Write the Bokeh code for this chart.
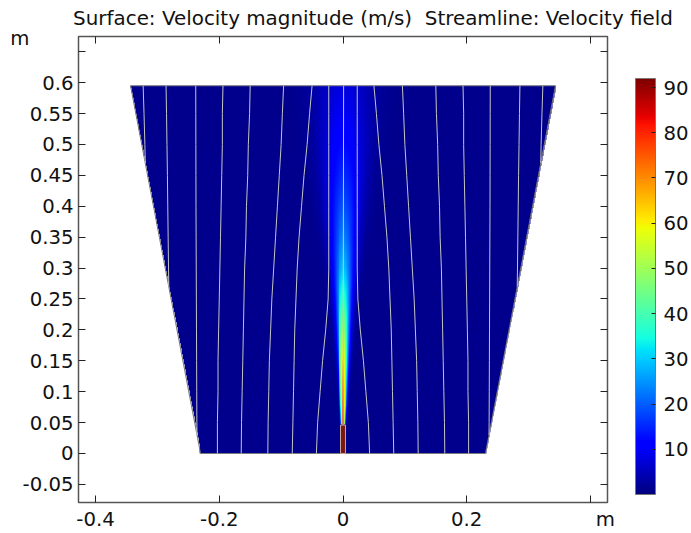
import numpy as np
from bokeh.plotting import figure
from bokeh.models import (Range1d, LinearAxis, FixedTicker, ColorBar,
                          LinearColorMapper)
from bokeh.embed import file_html
from bokeh.resources import INLINE

NBSP = "\u00a0"
# ---------------- data ----------------
TITLE = "Surface: Velocity magnitude (m/s)" + NBSP + " Streamline: Velocity field"
title_pos = [0.0485]          # horizontal centre of the title, in x units
x_ticks = [-0.4, -0.2, 0.0, 0.2, 0.4]
x_tick_labels = ["-0.4", "-0.2", "0", "0.2", ""]
x_unit_pos = [0.4242]
x_unit_label = ["m"]
y_ticks = [-0.05, 0.0, 0.05, 0.1, 0.15, 0.2, 0.25, 0.3, 0.35, 0.4, 0.45, 0.5, 0.55, 0.6, 0.65]
y_tick_labels = ["-0.05", "0", "0.05", "0.1", "0.15", "0.2", "0.25", "0.3", "0.35",
                 "0.4", "0.45", "0.5", "0.55", "0.6", ""]
y_unit_pos = [0.671]
y_unit_label = ["m"]
cb_ticks = [10, 20, 30, 40, 50, 60, 70, 80, 90]
v_low, v_high = 0.0, 92.0

# trapezoidal domain (m)
domain_x = [-0.2303, 0.2303, 0.3434, -0.3434]
domain_y = [0.0, 0.0, 0.595, 0.595]
# nozzle
nozzle_x = [-0.004, 0.004]
nozzle_y = [0.0, 0.046]

v_background = 1.0
jet_y = [0.046, 0.08, 0.12, 0.16, 0.20, 0.25, 0.30, 0.35, 0.40, 0.45, 0.50, 0.55, 0.595]
jet_uc = [86, 78, 69, 59, 49, 38, 29, 23, 18.5, 15, 12, 9.5, 7.5]
jet_b = [0.003, 0.0045, 0.006, 0.008, 0.010, 0.013, 0.017, 0.021, 0.026, 0.031, 0.036, 0.041, 0.046]

# streamlines (left half, mirrored for the right half)
sl_y = [0.0, 0.05, 0.10, 0.15, 0.20, 0.25, 0.30, 0.35, 0.40, 0.45, 0.50, 0.55, 0.595]
sl_left_from_bottom = [
    [-0.043, -0.041, -0.037, -0.033, -0.028, -0.024, -0.023, -0.023, -0.023, -0.023, -0.023, -0.023, -0.023],
    [-0.082, -0.081, -0.080, -0.079, -0.078, -0.076, -0.074, -0.071, -0.067, -0.063, -0.058, -0.054, -0.050],
    [-0.1215, -0.121, -0.120, -0.119, -0.117, -0.115, -0.112, -0.109, -0.106, -0.103, -0.100, -0.098, -0.096],
    [-0.1645, -0.164, -0.163, -0.162, -0.161, -0.160, -0.159, -0.157, -0.156, -0.154, -0.153, -0.151, -0.150],
    [-0.203, -0.203, -0.202, -0.202, -0.201, -0.200, -0.199, -0.198, -0.197, -0.196, -0.195, -0.195, -0.194],
]
# streamlines that begin on the slanted wall: start point, then values on sl_y (None below start)
sl_wall_start_x = [-0.2360, -0.2816, -0.3196]
sl_wall_start_y = [0.03, 0.27, 0.47]
sl_left_from_wall = [
    [None, -0.2362, -0.2364, -0.2366, -0.2368, -0.2370, -0.2372, -0.2374, -0.2376, -0.2377, -0.2378, -0.2379, -0.238],
    [None, None, None, None, None, None, -0.2820, -0.2826, -0.2832, -0.2838, -0.2845, -0.2852, -0.286],
    [None, None, None, None, None, None, None, None, None, None, -0.3202, -0.3216, -0.323],
]
center_line_x = [0.0, 0.0005, 0.001]
center_line_y = [0.0, 0.30, 0.595]

# ---------------- colour map (rainbow / jet) ----------------
def jet_rgb(f):
    r = np.interp(f, [0, 0.35, 0.66, 0.89, 1], [0, 0, 1, 1, 0.5])
    g = np.interp(f, [0, 0.125, 0.375, 0.64, 0.91, 1], [0, 0, 1, 1, 0, 0])
    b = np.interp(f, [0, 0.11, 0.34, 0.65, 1], [0.5, 1, 1, 0, 0])
    return r, g, b

fs = np.linspace(0, 1, 256)
pr, pg, pb = jet_rgb(fs)
palette = ["#%02x%02x%02x" % (int(r * 255), int(g * 255), int(b * 255)) for r, g, b in zip(pr, pg, pb)]

# ---------------- figure ----------------
FONT = "DejaVu Sans"
FS = "19.7px"

p = figure(width=691, height=533, output_backend="svg", toolbar_location=None,
           x_range=Range1d(-0.4275, 0.4275), y_range=Range1d(-0.0793, 0.6747),
           min_border_left=78, min_border_right=84, min_border_top=36, min_border_bottom=30,
           x_axis_location=None, y_axis_location=None)
p.xgrid.visible = False
p.ygrid.visible = False
p.background_fill_color = "white"
p.border_fill_color = "white"
p.outline_line_color = "#555555"
p.outline_line_width = 1.5

def make_axis(ticks, labels, show_labels, standoff, tick_color="#222222", size=FS):
    ax = LinearAxis(ticker=FixedTicker(ticks=ticks))
    ax.major_label_overrides = {t: l for t, l in zip(ticks, labels)}
    ax.axis_line_color = None
    ax.major_tick_in = 7
    ax.major_tick_out = 0
    ax.major_tick_line_color = tick_color
    ax.minor_tick_line_color = None
    ax.major_label_text_font = FONT
    ax.major_label_text_color = "#111111"
    if show_labels:
        ax.major_label_text_font_size = size
        ax.major_label_standoff = standoff
    else:
        ax.major_label_text_font_size = "0px"
        ax.major_label_standoff = 0
    return ax

# bottom: tick labels, then the unit "m" pulled back up onto the same row
p.add_layout(make_axis(x_ticks, x_tick_labels, True, 9), "below")
p.add_layout(make_axis(x_unit_pos, x_unit_label, True, -21, tick_color=None), "below")
# left: tick labels, then the unit "m"
p.add_layout(make_axis(y_ticks, y_tick_labels, True, 5), "left")
p.add_layout(make_axis(y_unit_pos, y_unit_label, True, -10, tick_color=None), "left")
# top: mirrored ticks, then the title
p.add_layout(make_axis(x_ticks, x_tick_labels, False, 0), "above")
p.add_layout(make_axis(title_pos, [TITLE], True, 7, tick_color=None, size="19.9px"), "above")
# right: mirrored ticks
p.add_layout(make_axis(y_ticks, y_tick_labels, False, 0), "right")

# velocity magnitude surface
x0, x1 = min(domain_x), max(domain_x)
y0, y1 = min(domain_y), max(domain_y)
nx, ny = 428, 369
xs = x0 + (np.arange(nx) + 0.5) * (x1 - x0) / nx
ys = y0 + (np.arange(ny) + 0.5) * (y1 - y0) / ny
X, Y = np.meshgrid(xs, ys)
half = domain_x[1] + (domain_x[2] - domain_x[1]) * (Y - y0) / (y1 - y0)
inside = np.abs(X) <= half
uc = np.interp(Y, jet_y, jet_uc)
bw = np.interp(Y, jet_y, jet_b)
V = v_background + np.where(Y >= nozzle_y[1], (uc - v_background) * np.exp(-(X / bw) ** 2), 0.0)
F = np.clip((V - v_low) / (v_high - v_low), 0, 1)
R, G, B = jet_rgb(F)
img = np.zeros((ny, nx), dtype=np.uint32)
view = img.view(dtype=np.uint8).reshape((ny, nx, 4))
view[..., 0] = (R * 255).astype(np.uint8)
view[..., 1] = (G * 255).astype(np.uint8)
view[..., 2] = (B * 255).astype(np.uint8)
view[..., 3] = np.where(inside, 255, 0).astype(np.uint8)
p.image_rgba(image=[img], x=x0, y=y0, dw=x1 - x0, dh=y1 - y0)

# domain boundary
p.patch(domain_x, domain_y, fill_alpha=0, line_color="#7a7a7a", line_width=1)

# streamlines
sl_xs, sl_ys = [], []
for line in sl_left_from_bottom:
    for sgn in (1, -1):
        sl_xs.append([sgn * v for v in line])
        sl_ys.append(list(sl_y))
for sx, sy, line in zip(sl_wall_start_x, sl_wall_start_y, sl_left_from_wall):
    for sgn in (1, -1):
        xx = [sgn * sx] + [sgn * v for v in line if v is not None]
        yy = [sy] + [yv for yv, v in zip(sl_y, line) if v is not None]
        sl_xs.append(xx)
        sl_ys.append(yy)
sl_xs.append(center_line_x)
sl_ys.append(center_line_y)
p.multi_line(sl_xs, sl_ys, line_color="#c4c4c4", line_width=1.0)

# nozzle
p.quad(left=[nozzle_x[0]], right=[nozzle_x[1]], bottom=[nozzle_y[0]], top=[nozzle_y[1]],
       fill_color="#7a1812", line_color="#c8a8a0", line_width=1)

# colour bar
mapper = LinearColorMapper(palette=palette, low=v_low, high=v_high)
cb = ColorBar(color_mapper=mapper, ticker=FixedTicker(ticks=cb_ticks),
              location=(557, 8), width=20, height=416, padding=0, margin=0,
              label_standoff=8, major_label_text_font=FONT, major_label_text_font_size=FS,
              major_label_text_color="#111111",
              major_tick_in=4, major_tick_out=0, major_tick_line_color="#222222",
              minor_tick_line_color=None, bar_line_color="#777777",
              background_fill_alpha=0, border_line_color=None)
p.add_layout(cb)

open("out.html", "w").write(file_html(p, INLINE))
